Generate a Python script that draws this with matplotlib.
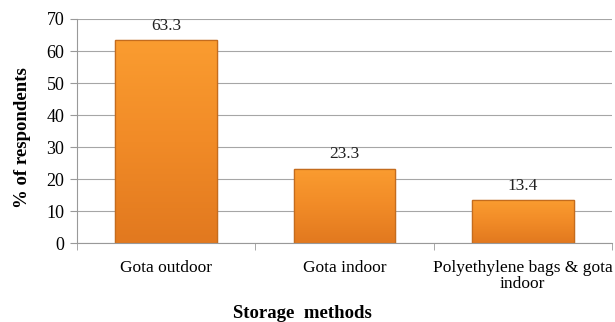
import numpy as np
import matplotlib
matplotlib.use("Agg")
import matplotlib.pyplot as plt
from matplotlib.colors import LinearSegmentedColormap

categories = ["Gota outdoor", "Gota indoor", "Polyethylene bags & gota\nindoor"]
values = [63.3, 23.3, 13.4]
value_labels = ["63.3", "23.3", "13.4"]
yticks = [0, 10, 20, 30, 40, 50, 60, 70]

plt.rcParams["font.family"] = ["Liberation Serif", "DejaVu Serif"]

fig = plt.figure(figsize=(6.15, 3.22), dpi=100)
ax = fig.add_axes([0.125, 0.245, 0.87, 0.696])

x = np.arange(len(categories))
bars = ax.bar(x, values, width=0.57, color="#F0922C", edgecolor="#C46C1E",
              linewidth=0.9, zorder=2)

# vertical orange gradient inside each bar: light top, darker bottom
cmap = LinearSegmentedColormap.from_list("bar", ["#E2791F", "#F18B27", "#FA9C30"])
grad = np.linspace(0, 1, 64).reshape(-1, 1)
for b in bars:
    x0, y0 = b.get_x(), b.get_y()
    w, h = b.get_width(), b.get_height()
    im = ax.imshow(grad, cmap=cmap, aspect="auto", origin="lower",
                   extent=(x0, x0 + w, y0, y0 + h), zorder=2.1,
                   interpolation="bicubic")
    im.set_clip_path(b)
    ax.add_patch(plt.Rectangle((x0, y0), w, h, fill=False, edgecolor="#C46C1E",
                               linewidth=0.9, zorder=2.2))

for xi, v, lab in zip(x, values, value_labels):
    ax.text(xi, v + 2.0, lab, ha="center", va="bottom", fontsize=12.5, color="#222222")

ax.set_xlim(-0.5, len(categories) - 0.5)
ax.set_ylim(0, 70)
ax.set_yticks(yticks)
ax.set_xticks(x)
ax.set_xticklabels(categories, fontsize=12.5, linespacing=1.05)
ax.set_xticks(np.arange(len(categories) + 1) - 0.5, minor=True)
ax.tick_params(axis="x", which="major", length=0, pad=12)
ax.tick_params(axis="x", which="minor", length=5, color="#999999", direction="out")
ax.tick_params(axis="y", length=5, color="#999999", labelsize=13, pad=4)

ax.grid(axis="y", color="#A6A6A6", linewidth=0.8, zorder=0)
ax.set_axisbelow(True)
for s in ["top", "right"]:
    ax.spines[s].set_visible(False)
for s in ["left", "bottom"]:
    ax.spines[s].set_color("#999999")
    ax.spines[s].set_linewidth(0.8)

ax.set_ylabel("% of respondents", fontsize=13.5, fontweight="bold")
ax.yaxis.set_label_coords(-0.085, 0.47)
ax.set_xlabel("Storage  methods", fontsize=13.5, fontweight="bold")
ax.xaxis.set_label_coords(0.421, -0.275)

fig.savefig("out.png", dpi=100)
